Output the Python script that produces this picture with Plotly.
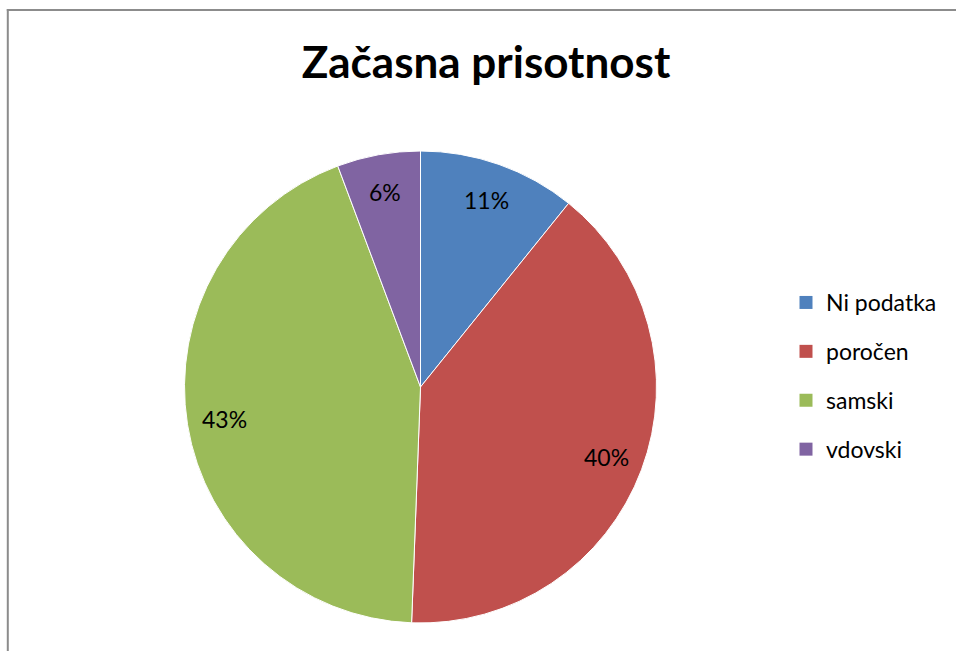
import math
import plotly.graph_objects as go

categories = ["Ni podatka", "poročen", "samski", "vdovski"]
values = [10.8, 39.8, 43.7, 5.7]
pct_labels = ["11%", "40%", "43%", "6%"]
colors = ["#4F81BD", "#C0504D", "#9BBB59", "#8064A2"]
title_text = "Začasna prisotnost"

W, H = 956, 651
FONT = "Lato"

# pie placement (pixels)
PX0, PX1, PY0, PY1 = 184, 657, 151, 623
cx, cy = (PX0 + PX1) / 2, (PY0 + PY1) / 2
R = (PX1 - PX0) / 2

fig = go.Figure()
fig.add_trace(go.Pie(
    labels=categories, values=values,
    textinfo="none",
    sort=False, direction="clockwise", rotation=0,
    marker=dict(colors=colors, line=dict(color="white", width=1)),
    showlegend=False, hoverinfo="label+percent",
    domain=dict(x=[PX0 / W, PX1 / W], y=[(H - PY1) / H, (H - PY0) / H]),
))

# data labels placed at the mid-angle of each slice
total = sum(values)
cum = 0.0
annotations = []
for v, lab in zip(values, pct_labels):
    mid = (cum + v / 2) / total * 2 * math.pi
    cum += v
    r = 0.84 * R
    px = cx + r * math.sin(mid)
    py = cy - r * math.cos(mid)
    annotations.append(dict(x=px / W, y=1 - py / H, xref="paper", yref="paper",
                            text=lab, showarrow=False, xanchor="center", yanchor="middle",
                            font=dict(family=FONT, size=23, color="black")))

# legend entries (one per category, separate groups for spacing)
for i, (c, col) in enumerate(zip(categories, colors)):
    fig.add_trace(go.Scatter(
        x=[None], y=[None], mode="markers", name=c,
        marker=dict(symbol="square", size=13, color=col),
        legendgroup=f"g{i}", showlegend=True,
    ))

border = dict(color="#8c8c8c", width=2)
fig.update_layout(
    width=W, height=H,
    margin=dict(l=0, r=0, t=0, b=0),
    paper_bgcolor="white", plot_bgcolor="white",
    xaxis=dict(visible=False), yaxis=dict(visible=False),
    title=dict(text="<b>" + title_text + "</b>", x=486 / W, xanchor="center",
               y=1 - 63 / H, yanchor="middle",
               font=dict(family=FONT, size=44, color="black")),
    legend=dict(x=786 / W, xanchor="left", y=1 - 281 / H, yanchor="top",
                font=dict(family=FONT, size=23, color="black"),
                tracegroupgap=16, itemwidth=30, bgcolor="rgba(0,0,0,0)"),
    annotations=annotations,
    shapes=[
        dict(type="line", xref="paper", yref="paper",
             x0=6.8 / W, x1=1, y0=1 - 10 / H, y1=1 - 10 / H, line=border, layer="above"),
        dict(type="line", xref="paper", yref="paper",
             x0=7.8 / W, x1=7.8 / W, y0=0, y1=1 - 9 / H, line=border, layer="above"),
    ],
)

fig.write_html("out.html", config={"displayModeBar": False},
               post_script="document.body.style.margin='0';"
                           "document.body.style.overflow='hidden';"
                           "document.documentElement.style.overflow='hidden';")
